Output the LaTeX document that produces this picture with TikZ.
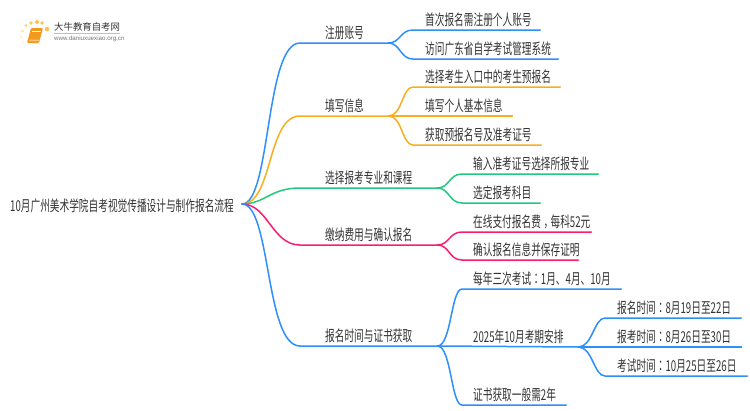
\documentclass[tikz,border=0pt]{standalone}
\usepackage{fontspec}
\setsansfont{Liberation Sans}
\newfontfamily\cjk[FakeStretch=0.645]{Noto Sans CJK SC}
\newfontfamily\cjkmark[FakeStretch=0.645]{Noto Sans CJK TC}
\newfontfamily\logofont{Noto Sans CJK SC}
\definecolor{mapblue}{HTML}{2E8FFB}
\definecolor{maporange}{HTML}{F8AE1E}
\definecolor{mapgreen}{HTML}{1FC97F}
\definecolor{mappink}{HTML}{FB1C72}
\definecolor{maptext}{HTML}{333333}
\definecolor{logobook}{HTML}{F39A1E}
\definecolor{logodot}{HTML}{FFC24D}
\tikzset{
	label/.style={anchor=south west, inner xsep=0pt, inner ysep=3pt, text width=#1, align=left, font=\cjk\fontsize{15}{17}\selectfont, text=maptext},
	link/.style={line width=1.5pt, line cap=round}
}
\begin{document}
\begin{tikzpicture}[x=1pt, y=-1pt]
	\useasboundingbox (0,0) rectangle (750,410);
	% logo
	\fill [logobook, rounded corners=1pt] (31,28) -- (43,28) -- (39,43) -- (27,43) -- cycle;
	\fill [logobook!60!white] (29.5,39.5) -- (40,39.5) -- (39.5,41) -- (29,41) -- cycle;
	\draw [white, line width=0.6pt] (32,31) -- (41,31);
	\foreach \px/\py/\pr/\pc in {47/29/2.3/100, 42/23/1.9/100, 37/22/2/100, 31/23/1.9/90, 26/25.5/1.6/75, 22.5/31/1.4/55, 21/37/1.2/40, 23/42.5/1/25}
		\fill [logodot!\pc!white] (\px,\py) circle (\pr);
	\node (logoname) [anchor=west, inner sep=0pt, font=\logofont\fontsize{9.4}{11}\selectfont, text=maptext] at (54,27) {大牛教育自考网};
	\node (logourl) [anchor=west, inner sep=0pt, font=\sffamily\fontsize{6.2}{7}\selectfont, text=black!55] at (54,39) {www.daniuxuexiao.org.cn};
	\draw [black!25, line width=0.5pt] (logoname.south west) ++(0,1.5) -- ++(66,0);

	% root
	\node (root) [anchor=west, inner sep=0pt, font=\cjk\fontsize{15}{17}\selectfont, text=maptext] at (10,206) {10月广州美术学院自考视觉传播设计与制作报名流程};
	\coordinate (hub) at (242,204);

	% first level
	\node (zhuce) [label=63pt] at (325,43) {注册账号};
	\node (tianxie) [label=63pt] at (325,116) {填写信息};
	\node (xuanze) [label=112pt] at (325,188) {选择报考专业和课程};
	\node (jiaona) [label=112pt] at (325,245) {缴纳费用与确认报名};
	\node (shijian) [label=112pt] at (325,346) {报名时间与证书获取};

	\draw [link, mapblue] (hub) .. controls (271,204) and (265,43) .. ([xshift=-25pt]zhuce.south west) -- (zhuce.south east);
	\draw [link, maporange] (hub) .. controls (273,204) and (267,116) .. ([xshift=-25pt]tianxie.south west) -- (tianxie.south east);
	\draw [link, mapgreen] (hub) .. controls (265,204) and (270,188) .. ([xshift=-25pt]xuanze.south west) -- (xuanze.south east);
	\draw [link, mappink] (hub) .. controls (268,204) and (272,245) .. ([xshift=-25pt]jiaona.south west) -- (jiaona.south east);
	\draw [link, mapblue] (hub) .. controls (271,204) and (265,346) .. ([xshift=-25pt]shijian.south west) -- (shijian.south east);

	% second level
	\node (shouci) [label=115pt] at (425,30) {首次报名需注册个人账号};
	\node (fangwen) [label=133pt] at (425,59) {访问广东省自学考试管理系统};
	\draw [link, mapblue] (zhuce.south east) .. controls +(12,0) and +(-13,0) .. ([xshift=-12pt]shouci.south west) -- (shouci.south east);
	\draw [link, mapblue] (zhuce.south east) .. controls +(12,0) and +(-13,0) .. ([xshift=-12pt]fangwen.south west) -- (fangwen.south east);

	\node (yubaoming) [label=135pt] at (425,87) {选择考生入口中的考生预报名};
	\node (jiben) [label=87pt] at (425,116) {填写个人基本信息};
	\node (zhunkao) [label=116pt] at (425,145) {获取预报名号及准考证号};
	\draw [link, maporange] (tianxie.south east) .. controls +(14,0) and +(-11,0) .. ([xshift=-12pt]yubaoming.south west) -- (yubaoming.south east);
	\draw [link, maporange] (tianxie.south east) -- (jiben.south east);
	\draw [link, maporange] (tianxie.south east) .. controls +(14,0) and +(-11,0) .. ([xshift=-12pt]zhunkao.south west) -- (zhunkao.south east);

	\node (shuru) [label=125pt] at (473,174) {输入准考证号选择所报专业};
	\node (xuanding) [label=67pt] at (473,203) {选定报考科目};
	\draw [link, mapgreen] (xuanze.south east) .. controls +(12,0) and +(-13,0) .. ([xshift=-11pt]shuru.south west) -- (shuru.south east);
	\draw [link, mapgreen] (xuanze.south east) .. controls +(12,0) and +(-13,0) .. ([xshift=-11pt]xuanding.south west) -- (xuanding.south east);

	\node (zhifu) [label=118pt] at (473,232) {在线支付报名费\kern2.8pt，\kern-2.8pt每科52元};
	\node (baocun) [label=105pt] at (473,260) {确认报名信息并保存证明};
	\draw [link, mappink] (jiaona.south east) .. controls +(12,0) and +(-13,0) .. ([xshift=-11pt]zhifu.south west) -- (zhifu.south east);
	\draw [link, mappink] (jiaona.south east) .. controls +(12,0) and +(-13,0) .. ([xshift=-11pt]baocun.south west) -- (baocun.south east);

	\node (sanci) [label=148pt] at (473,289) {每年三次考试{\cjkmark ：}1月、4月、10月};
	\node (anpai) [label=105pt] at (473,347) {2025年10月考期安排};
	\node (zhengshu) [label=93pt] at (473,405) {证书获取一般需2年};
	\draw [link, mapblue] (shijian.south east) .. controls +(14,0) and +(-11,0) .. ([xshift=-11pt]sanci.south west) -- (sanci.south east);
	\draw [link, mapblue] (shijian.south east) -- (anpai.south east);
	\draw [link, mapblue] (shijian.south east) .. controls +(14,0) and +(-11,0) .. ([xshift=-11pt]zhengshu.south west) -- (zhengshu.south east);

	% third level
	\node (baoming) [label=124pt] at (617,318) {报名时间{\cjkmark ：}8月19日至22日};
	\node (baokao) [label=124pt] at (617,347) {报考时间{\cjkmark ：}8月26日至30日};
	\node (kaoshi) [label=130pt] at (617,376) {考试时间{\cjkmark ：}10月25日至26日};
	\draw [link, mapblue] (anpai.south east) .. controls +(14,0) and +(-11,0) .. ([xshift=-12pt]baoming.south west) -- (baoming.south east);
	\draw [link, mapblue] (anpai.south east) -- (baokao.south east);
	\draw [link, mapblue] (anpai.south east) .. controls +(14,0) and +(-11,0) .. ([xshift=-12pt]kaoshi.south west) -- (kaoshi.south east);
\end{tikzpicture}
\end{document}
